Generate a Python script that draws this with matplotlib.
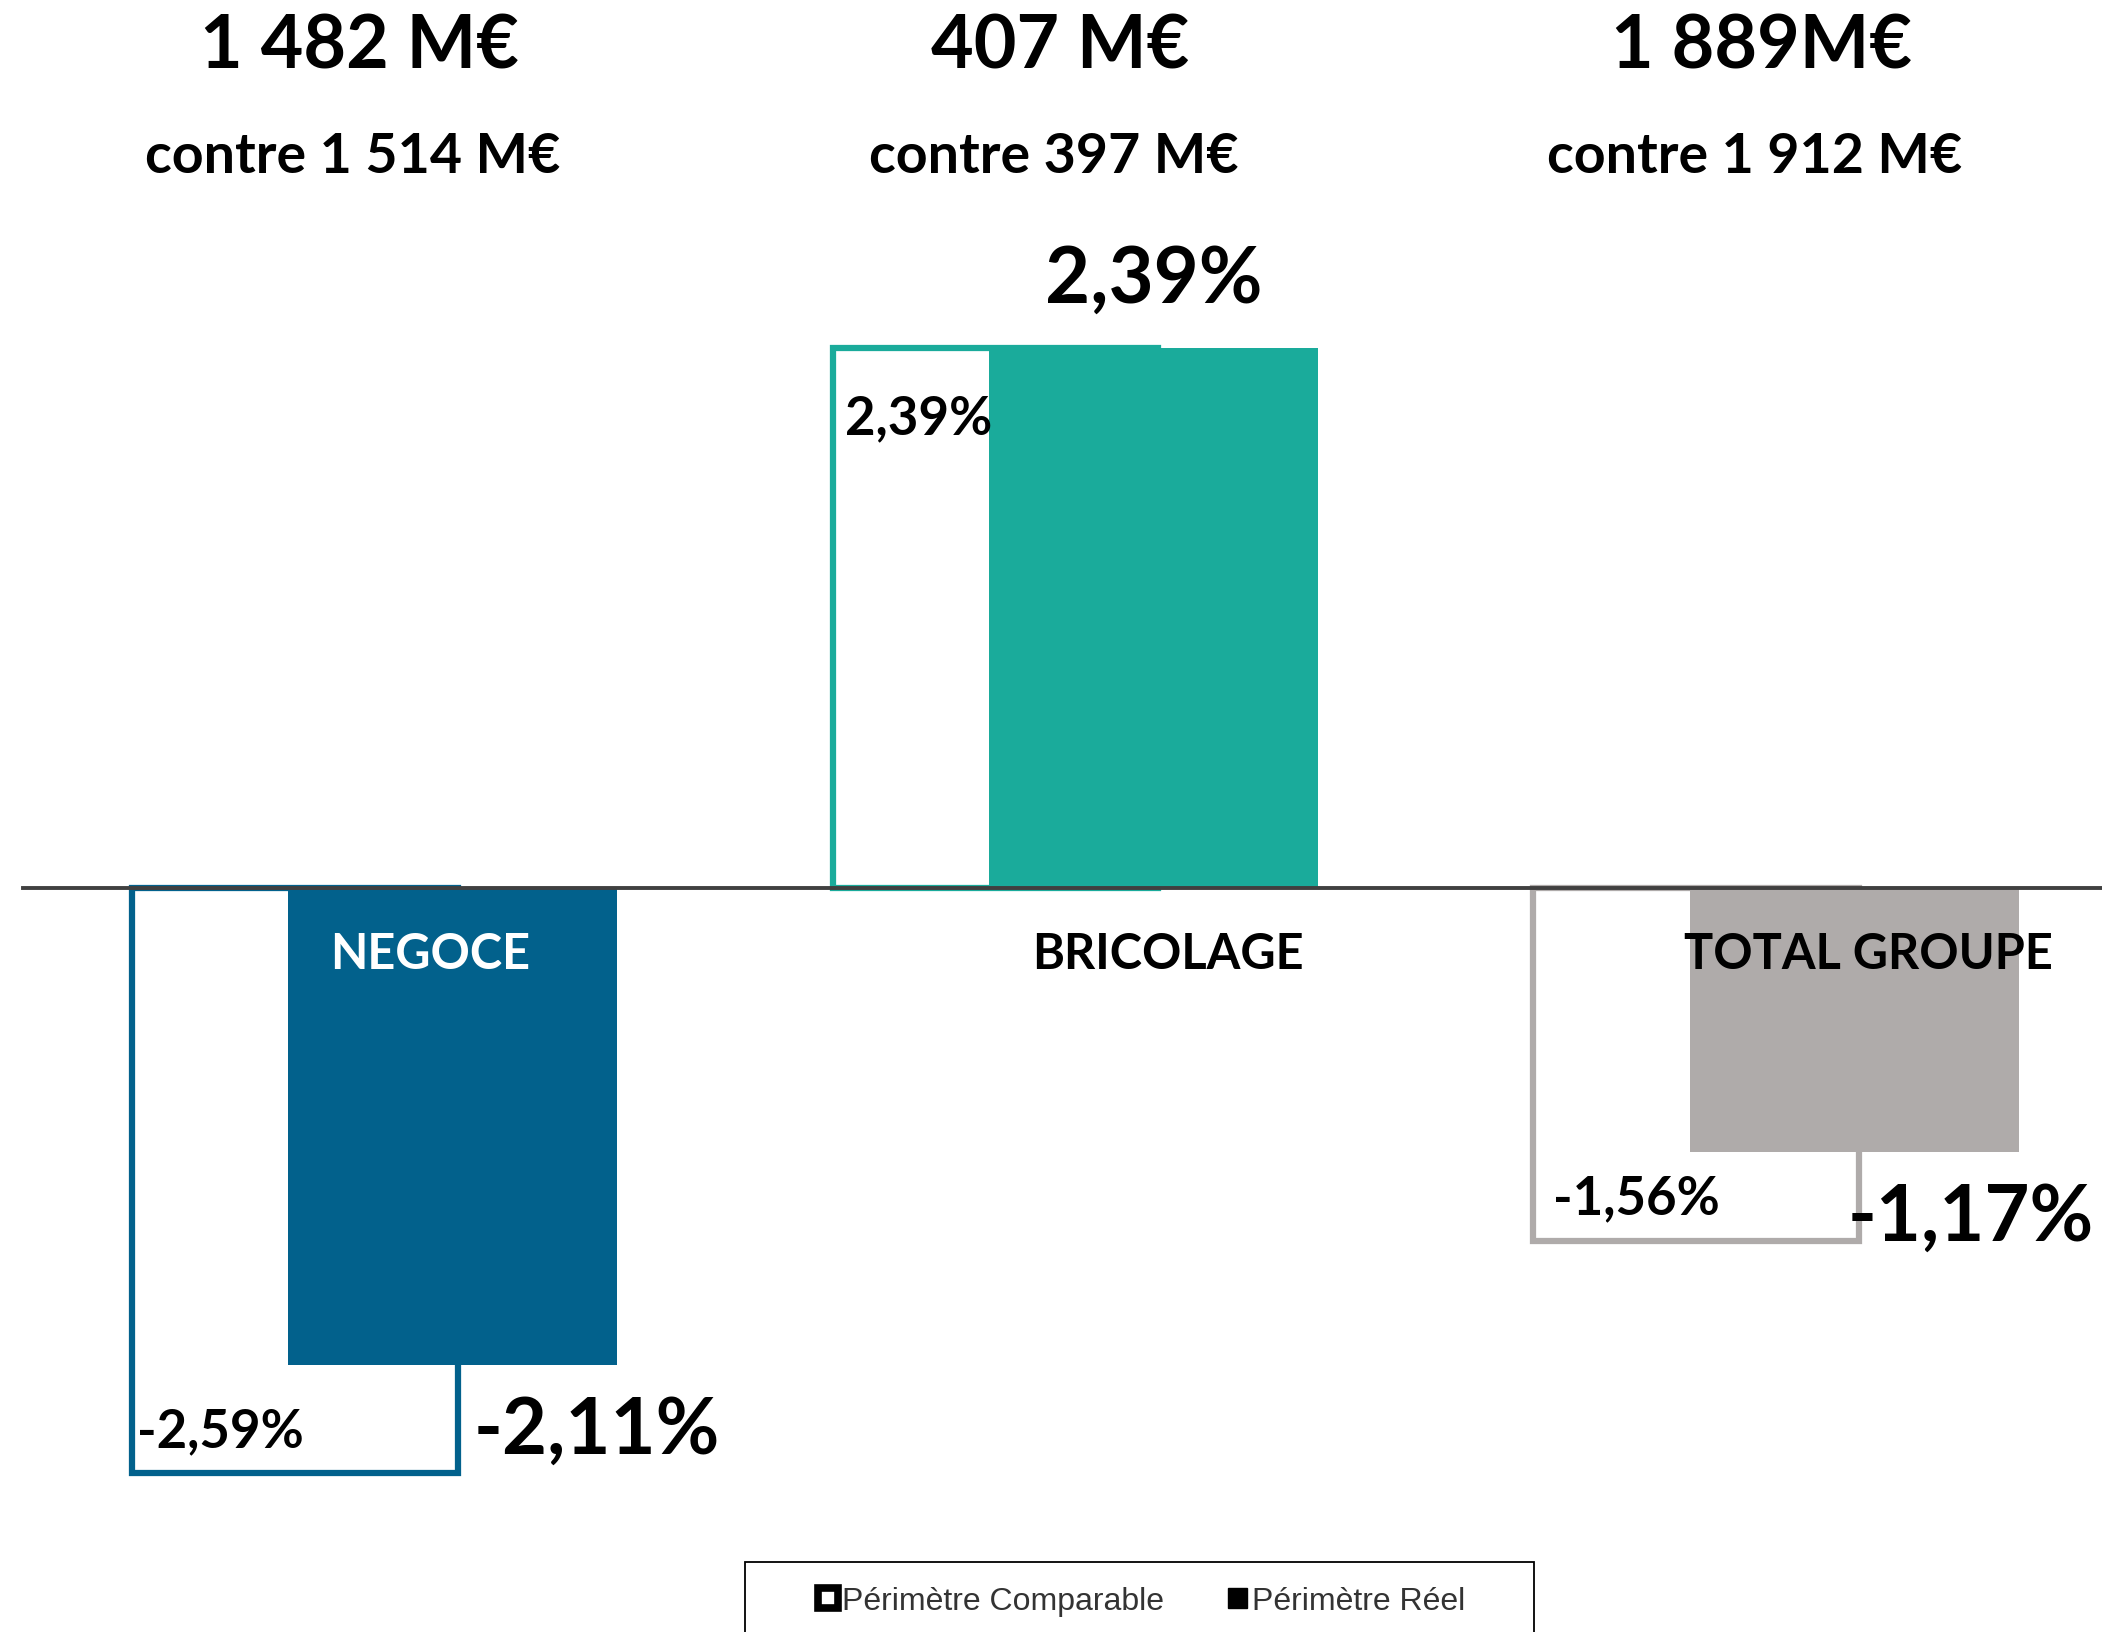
import matplotlib
matplotlib.use("Agg")
import matplotlib.pyplot as plt
from matplotlib.patches import Patch, Rectangle

# data
categories = ['NEGOCE', 'BRICOLAGE', 'TOTAL GROUPE']
comparable = [-2.59, 2.39, -1.56]
reel = [-2.11, 2.39, -1.17]
ca_actuel = ['1 482 M€', '407 M€', '1 889M€']
ca_precedent = ['contre 1 514 M€', 'contre 397 M€', 'contre 1 912 M€']
colors = ['#02618C', '#1AAB9B', '#AFABAA']
cat_text_colors = ['white', 'black', 'black']
legend_labels = ['Périmètre Comparable', 'Périmètre Réel']

def fmt(v):
    return ('%.2f%%' % v).replace('.', ',')

plt.rcParams['font.family'] = ['Lato', 'DejaVu Sans']

fig = plt.figure(figsize=(21.02, 16.33), dpi=100)
ax = fig.add_axes([0, 0, 1, 1])
ax.set_xlim(-0.533, 2.466)
ax.set_ylim(-3.292, 3.934)
ax.axis('off')

off = 0.1127
cat_dx = [0.08, 0.133, 0.133]   # position du nom dans chaque groupe
for i, cat in enumerate(categories):
    # comparable: contour only
    ax.bar(i - off, comparable[i], width=0.465, facecolor='white',
           edgecolor=colors[i], linewidth=4.5, zorder=2)
    # reel: plein
    ax.bar(i + off, reel[i], width=0.47, color=colors[i], zorder=3)

    # small labels (comparable)
    c = comparable[i]
    if c < 0:
        ax.text(i - off - 0.225 + 0.01 * i, c + 0.19, fmt(c), ha='left',
                va='center', fontsize=38, fontweight='bold', zorder=5)
    else:
        ax.text(i - off - 0.215, c - 0.31, fmt(c), ha='left', va='center',
                fontsize=38, fontweight='bold', zorder=5)

    # big labels (reel)
    r = reel[i]
    if r < 0:
        ax.text(i + off + 0.03 - 0.02 * i, r - 0.29, fmt(r), ha='left',
                va='center', fontsize=56, fontweight='bold', zorder=5)
    else:
        ax.text(i + off, r + 0.3, fmt(r), ha='center', va='center',
                fontsize=56, fontweight='bold', zorder=5)

    # category name
    ax.text(i + cat_dx[i], -0.29, cat, ha='center', va='center', fontsize=35,
            fontweight='bold', color=cat_text_colors[i], zorder=5)

    # CA titles
    ax.text(i - 0.02, 3.726, ca_actuel[i], ha='center', va='center',
            fontsize=53, fontweight='bold')
    ax.text(i - 0.03, 3.239, ca_precedent[i], ha='center', va='center',
            fontsize=40, fontweight='bold')

ax.axhline(0, xmin=0.011, xmax=1, color='#404040', linewidth=2.8, zorder=4)

# legend
fig.patches.append(Rectangle((745 / 2102, -0.01), (1534 - 745) / 2102,
                             1 - 1563 / 1633 + 0.01, transform=fig.transFigure,
                             facecolor='white', edgecolor='black', linewidth=1.3))
handles = [Patch(facecolor='white', edgecolor='black', linewidth=5.5),
           Patch(facecolor='black', edgecolor='black')]
fig.legend(handles, legend_labels, loc='center', ncol=2, frameon=False,
           bbox_to_anchor=(1142 / 2102, 1 - 1602 / 1633),
           prop={'family': 'Liberation Sans', 'size': 23},
           labelcolor='#333333', handlelength=0.6, handleheight=0.6,
           handletextpad=0.15, columnspacing=2.0)

fig.savefig('out.png', dpi=100)
